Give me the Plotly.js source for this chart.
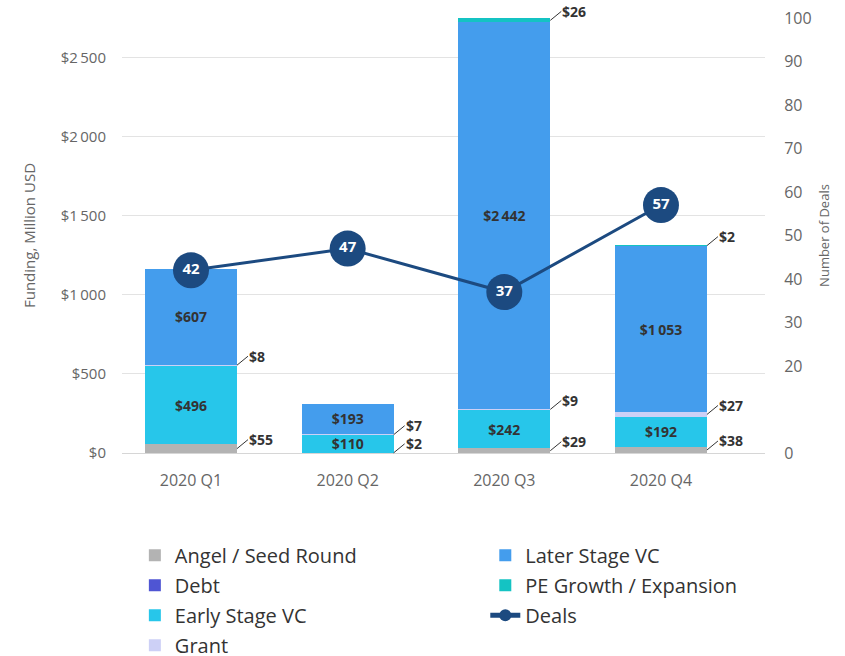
<!DOCTYPE html>
<html>
<head>
<meta charset="utf-8">
<script src="https://cdn.plot.ly/plotly-3.0.1.min.js"></script>
<style>html,body{margin:0;padding:0;background:#fff}#chart{width:845px;height:656px}</style>
</head>
<body>
<div id="chart"></div>
<script>
const categories = ['2020 Q1', '2020 Q2', '2020 Q3', '2020 Q4'];
const angel = [55, 2, 29, 38];
const debt = [0, 0, 0, 0];
const early = [496, 110, 242, 192];
const grant = [8, 7, 9, 27];
const later = [607, 193, 2442, 1053];
const pe = [0, 0, 26, 2];
const deals = [42, 47, 37, 57];
const fundingTickVals = [0, 500, 1000, 1500, 2000, 2500];
const dealsTickVals = [0, 20, 30, 40, 50, 60, 70, 80, 90, 100];

const FONT = 'Open Sans';
const BAR_W = 0.587;
const THIN = '\u2009';
const labelFont = {family: FONT, size: 14, color: '#333333', weight: 'bold'};

function money(v) {
  return '$' + String(v).replace(/\B(?=(\d{3})+(?!\d))/g, THIN);
}

function barTrace(name, vals, color, legend, showText) {
  const t = {
    type: 'bar', name: name, x: categories, y: vals, width: BAR_W,
    marker: {color: color, line: {width: 0}},
    legend: legend, legendgroup: name, hoverinfo: 'skip'
  };
  if (showText) {
    t.text = vals.map(money);
    t.texttemplate = '%{text}';
    t.textposition = 'inside';
    t.insidetextanchor = 'middle';
    t.textfont = labelFont;
  } else {
    t.textposition = 'none';
  }
  return t;
}

const series = [
  ['Angel / Seed Round', angel, '#b3b3b3', 'legend', false],
  ['Debt', debt, '#4f55d3', 'legend', false],
  ['Early Stage VC', early, '#27c6ea', 'legend', true],
  ['Grant', grant, '#cdd0f6', 'legend', false],
  ['Later Stage VC', later, '#449ded', 'legend2', true],
  ['PE Growth / Expansion', pe, '#14c3c3', 'legend2', false]
];
const traces = series.map(s => barTrace(s[0], s[1], s[2], s[3], s[4]));

traces.push({
  type: 'scatter', mode: 'lines+markers+text', name: 'Deals',
  x: categories, y: deals, yaxis: 'y2',
  line: {color: '#1c4a80', width: 3},
  marker: {color: '#1c4a80', size: 36},
  text: deals.map(String), textposition: 'middle center',
  textfont: {family: FONT, size: 15, color: '#ffffff', weight: 'bold'},
  legend: 'legend2', legendgroup: 'Deals', hoverinfo: 'skip'
});

// outside labels with connectors for small segments
const outside = [
  {vals: angel, idx: 0},
  {vals: grant, idx: 3},
  {vals: pe, idx: 5}
];
const stackOrder = [angel, debt, early, grant, later, pe];
const annotations = [];
outside.forEach(o => {
  o.vals.forEach((v, i) => {
    if (v <= 0) return;
    let base = 0;
    for (let k = 0; k < o.idx; k++) base += stackOrder[k][i];
    annotations.push({
      x: i + BAR_W / 2, y: base + v / 2, xref: 'x', yref: 'y',
      text: money(v), showarrow: true, arrowhead: 0, arrowwidth: 1,
      arrowcolor: '#333333', ax: 11, ay: -9, xanchor: 'left', yanchor: 'middle',
      font: labelFont, borderpad: 0
    });
  });
});

const layout = {
  width: 845, height: 656,
  margin: {l: 122, r: 80, t: 18, b: 203, autoexpand: false},
  paper_bgcolor: '#ffffff', plot_bgcolor: '#ffffff',
  barmode: 'stack',
  font: {family: FONT, color: '#666666'},
  showlegend: true,
  xaxis: {
    type: 'category', range: [-0.4404, 3.664],
    showgrid: false, zeroline: false, showline: false,
    ticks: 'outside', ticklen: 13, tickcolor: 'rgba(0,0,0,0)',
    tickfont: {family: FONT, size: 16, color: '#666666'}
  },
  yaxis: {
    range: [0, 2750], tickmode: 'array', tickvals: fundingTickVals,
    ticktext: fundingTickVals.map(money),
    showgrid: true, gridcolor: '#e3e3e3', gridwidth: 1,
    zeroline: true, zerolinecolor: '#d6d6d6', zerolinewidth: 1,
    ticks: 'outside', ticklen: 12, tickcolor: 'rgba(0,0,0,0)',
    tickfont: {family: FONT, size: 15, color: '#666666'},
    title: {text: 'Funding, Million USD', font: {family: FONT, size: 15, color: '#666666'}, standoff: 21}
  },
  yaxis2: {
    overlaying: 'y', side: 'right', range: [0, 100],
    tickmode: 'array', tickvals: dealsTickVals, showgrid: false, zeroline: false,
    ticks: 'outside', ticklen: 15, tickcolor: 'rgba(0,0,0,0)',
    tickfont: {family: FONT, size: 16, color: '#666666'},
    title: {text: 'Number of Deals', font: {family: FONT, size: 13, color: '#666666'}, standoff: 9}
  },
  legend: {
    x: 0.02, y: -0.19, xanchor: 'left', yanchor: 'top', orientation: 'v',
    font: {family: FONT, size: 20, color: '#333333'}, tracegroupgap: 1,
    bgcolor: 'rgba(0,0,0,0)'
  },
  legend2: {
    x: 0.565, y: -0.19, xanchor: 'left', yanchor: 'top', orientation: 'v',
    font: {family: FONT, size: 20, color: '#333333'}, tracegroupgap: 1,
    bgcolor: 'rgba(0,0,0,0)', itemsizing: 'constant'
  },
  uniformtext: {mode: 'show', minsize: 14},
  annotations: annotations
};

Plotly.newPlot('chart', traces, layout, {displayModeBar: false, staticPlot: true});
</script>
</body>
</html>
